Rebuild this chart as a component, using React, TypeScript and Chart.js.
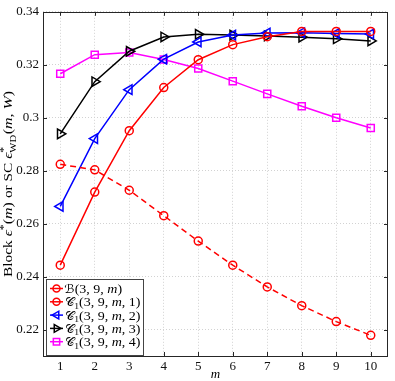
import React, { useEffect, useRef } from 'react';
import { Chart, registerables } from 'chart.js';

Chart.register(...registerables);

const mValues = [1, 2, 3, 4, 5, 6, 7, 8, 9, 10];
const blockB = [0.2824, 0.2803, 0.2726, 0.263, 0.2534, 0.2443, 0.2361, 0.229, 0.223, 0.2178];
const c1w1 = [0.2443, 0.2719, 0.2951, 0.3114, 0.3219, 0.3276, 0.3306, 0.3326, 0.3326, 0.3326];
const c1w2 = [0.2665, 0.2921, 0.3106, 0.3221, 0.3286, 0.3312, 0.332, 0.3321, 0.3318, 0.3316];
const c1w3 = [0.2939, 0.3136, 0.3251, 0.3305, 0.3315, 0.3312, 0.3309, 0.3304, 0.3298, 0.329];
const c1w4 = [0.3166, 0.3238, 0.3246, 0.322, 0.3186, 0.3138, 0.309, 0.3043, 0.3, 0.2961];
const xTickValues = [1, 2, 3, 4, 5, 6, 7, 8, 9, 10];
const yTickValues = [0.22, 0.24, 0.26, 0.28, 0.3, 0.32, 0.34];
const legendW = ['1', '2', '3', '4'];

const R = (s: number) => `${s}px "Liberation Serif", "DejaVu Serif", serif`;
const I = (s: number) => `italic ${s}px "Liberation Serif", "DejaVu Serif", serif`;
const S = (s: number) => `${s}px "DejaVu Serif", "DejaVu Sans", serif`;

type Seg = { t: string; font: string; dy?: number; top?: { t: string; font: string; dy: number }; bot?: { t: string; font: string; dy: number } };

function segWidth(ctx: CanvasRenderingContext2D, s: Seg) {
  if (s.top && s.bot) {
    ctx.font = s.top.font;
    const a = ctx.measureText(s.top.t).width;
    ctx.font = s.bot.font;
    const b = ctx.measureText(s.bot.t).width;
    return Math.max(a, b) + 0.5;
  }
  ctx.font = s.font;
  return ctx.measureText(s.t).width;
}

function richWidth(ctx: CanvasRenderingContext2D, segs: Seg[]) {
  let total = 0;
  for (const s of segs) total += segWidth(ctx, s);
  return total;
}

// draws segments starting at (0,0) baseline, stretched horizontally to targetW
function drawRich(ctx: CanvasRenderingContext2D, segs: Seg[], x: number, y: number, align: 'left' | 'center', targetW?: number) {
  const total = richWidth(ctx, segs);
  const k = targetW ? targetW / total : 1;
  ctx.save();
  ctx.translate(align === 'center' ? x - (total * k) / 2 : x, y);
  ctx.scale(k, 1);
  ctx.textAlign = 'left';
  ctx.textBaseline = 'alphabetic';
  let cx = 0;
  for (const s of segs) {
    const w = segWidth(ctx, s);
    if (s.top && s.bot) {
      ctx.font = s.top.font;
      ctx.fillText(s.top.t, cx, s.top.dy);
      ctx.font = s.bot.font;
      ctx.fillText(s.bot.t, cx, s.bot.dy);
    } else {
      ctx.font = s.font;
      ctx.fillText(s.t, cx, s.dy || 0);
    }
    cx += w;
  }
  ctx.restore();
}

function drawMarker(ctx: CanvasRenderingContext2D, style: string, rot: number, r: number, x: number, y: number) {
  ctx.beginPath();
  if (style === 'circle') {
    ctx.arc(x, y, r, 0, Math.PI * 2);
  } else if (style === 'rect') {
    const s = r * Math.SQRT1_2;
    ctx.rect(x - s, y - s, 2 * s, 2 * s);
  } else {
    let rad = (rot * Math.PI) / 180;
    ctx.moveTo(x + Math.sin(rad) * r, y - Math.cos(rad) * r);
    rad += (2 * Math.PI) / 3;
    ctx.lineTo(x + Math.sin(rad) * r, y - Math.cos(rad) * r);
    rad += (2 * Math.PI) / 3;
    ctx.lineTo(x + Math.sin(rad) * r, y - Math.cos(rad) * r);
    ctx.closePath();
  }
  ctx.stroke();
}

const yTitleSegs: Seg[] = [
  { t: 'Block ', font: R(13) },
  { t: 'ϵ', font: I(13) },
  { t: '*', font: R(10), dy: -5.5 },
  { t: '(', font: R(13.5) },
  { t: 'm', font: I(13.5) },
  { t: ') ', font: R(13.5) },
  { t: 'or SC ', font: R(13) },
  { t: 'ϵ', font: I(13) },
  { t: '', font: R(10), top: { t: '*', font: R(10), dy: -5.5 }, bot: { t: 'WD', font: R(9), dy: 3.5 } },
  { t: '(', font: R(13.5) },
  { t: 'm', font: I(13.5) },
  { t: ', ', font: R(13.5) },
  { t: 'W', font: I(13.5) },
  { t: ')', font: R(13.5) },
];

const legendItems = [
  { color: '#ff0000', style: 'circle', rot: 0, segs: [{ t: 'ℬ', font: S(12) }, { t: '(3, 9, ', font: R(13) }, { t: 'm', font: I(13) }, { t: ')', font: R(13) }] as Seg[] },
  ...legendW.map((w, i) => ({
    color: ['#ff0000', '#0000ff', '#000000', '#ff00ff'][i],
    style: ['circle', 'triangle', 'triangle', 'rect'][i],
    rot: [0, -90, 90, 0][i],
    segs: [
      { t: '𝒞', font: S(12) },
      { t: '1', font: R(9), dy: 2.5 },
      { t: '(3, 9, ', font: R(13) },
      { t: 'm', font: I(13) },
      { t: ', ' + w + ')', font: R(13) },
    ] as Seg[],
  })),
];

const decorPlugin = {
  id: 'decor',
  beforeDatasetsDraw(chart: any) {
    const { ctx, chartArea: a, scales } = chart;
    ctx.save();
    ctx.strokeStyle = '#262626';
    ctx.lineWidth = 1;
    ctx.setLineDash([]);
    ctx.beginPath();
    for (const v of xTickValues) {
      const px = Math.round(scales.x.getPixelForValue(v)) + 0.5;
      ctx.moveTo(px, a.bottom);
      ctx.lineTo(px, a.bottom - 4);
      ctx.moveTo(px, a.top);
      ctx.lineTo(px, a.top + 4);
    }
    for (const v of yTickValues) {
      const py = Math.round(scales.y.getPixelForValue(v)) + 0.5;
      ctx.moveTo(a.left, py);
      ctx.lineTo(a.left + 4, py);
      ctx.moveTo(a.right, py);
      ctx.lineTo(a.right - 4, py);
    }
    ctx.stroke();
    ctx.strokeRect(Math.round(a.left) + 0.5, Math.round(a.top) + 0.5, Math.round(a.right - a.left) - 1, Math.round(a.bottom - a.top));
    ctx.restore();
  },
  afterDraw(chart: any) {
    const { ctx, chartArea: a } = chart;
    ctx.save();
    ctx.setLineDash([]);
    ctx.fillStyle = '#000';
    ctx.save();
    ctx.translate(12, (a.top + a.bottom) / 2);
    ctx.rotate(-Math.PI / 2);
    drawRich(ctx, yTitleSegs, 0, 0, 'center', 186);
    ctx.restore();
    drawRich(ctx, [{ t: 'm', font: I(13) }], (a.left + a.right) / 2, 378, 'center');
    const bx = 46.5, by = 279.5, bw = 97, bh = 76;
    ctx.fillStyle = '#ffffff';
    ctx.fillRect(bx, by, bw, bh);
    ctx.strokeStyle = '#444444';
    ctx.lineWidth = 1;
    ctx.strokeRect(bx, by, bw, bh);
    const k = 76 / richWidth(ctx, legendItems[1].segs);
    legendItems.forEach((it, i) => {
      const cy = 288.5 + i * 13.3;
      ctx.strokeStyle = it.color;
      ctx.lineWidth = 1.5;
      ctx.beginPath();
      ctx.moveTo(50, cy);
      ctx.lineTo(63, cy);
      ctx.stroke();
      drawMarker(ctx, it.style, it.rot, it.style === 'circle' ? 3.5 : 4.5, 56.5, cy);
      ctx.fillStyle = '#000';
      drawRich(ctx, it.segs, 64.5, cy + 4.5, 'left', richWidth(ctx, it.segs) * k);
    });
    ctx.restore();
  },
};

export default function App() {
  const ref = useRef<HTMLCanvasElement | null>(null);
  useEffect(() => {
    document.body.style.margin = '0';
    if (!ref.current) return;
    const mk = (data: number[], color: string, style: string, rot: number, r: number, dash: number[] = []) => ({
      data: data.map((v, i) => ({ x: mValues[i], y: v })),
      borderColor: color,
      backgroundColor: color,
      borderWidth: 1.5,
      borderDash: dash,
      pointStyle: style,
      pointRotation: rot,
      pointRadius: r,
      pointBorderWidth: 1.5,
      pointBorderColor: color,
      pointBackgroundColor: 'rgba(0,0,0,0)',
      tension: 0,
      fill: false,
    });
    const chart = new Chart(ref.current, {
      type: 'line',
      data: {
        datasets: [
          mk(blockB, '#ff0000', 'circle', 0, 4, [6, 4]),
          mk(c1w1, '#ff0000', 'circle', 0, 4),
          mk(c1w2, '#0000ff', 'triangle', -90, 5.5),
          mk(c1w3, '#000000', 'triangle', 90, 5.5),
          mk(c1w4, '#ff00ff', 'rect', 0, 5),
        ] as any,
      },
      options: {
        animation: false,
        responsive: false,
        devicePixelRatio: 1,
        layout: { padding: { top: 9, right: 5, left: 0, bottom: 0 } },
        plugins: { legend: { display: false }, tooltip: { enabled: false } },
        scales: {
          x: {
            type: 'linear',
            min: 0.5,
            max: 10.5,
            afterBuildTicks: (s: any) => { s.ticks = xTickValues.map((v) => ({ value: v })); },
            afterFit: (s: any) => { s.height = 25; },
            ticks: { color: '#111', font: { family: '"Liberation Serif", serif', size: 13 }, padding: 3, autoSkip: false, maxRotation: 0, callback: (v: any) => String(v) },
            grid: { color: '#d2d2d2', lineWidth: 1, drawTicks: false },
            border: { display: false, dash: [1, 2] },
          },
          y: {
            type: 'linear',
            min: 0.21,
            max: 0.34,
            afterBuildTicks: (s: any) => { s.ticks = yTickValues.map((v) => ({ value: v })); },
            afterFit: (s: any) => { s.width = 43; },
            ticks: { color: '#111', font: { family: '"Liberation Serif", serif', size: 13 }, padding: 4, autoSkip: false, callback: (v: any) => String(Math.round(v * 100) / 100) },
            grid: { color: '#d2d2d2', lineWidth: 1, drawTicks: false },
            border: { display: false, dash: [1, 2] },
          },
        },
      } as any,
      plugins: [decorPlugin],
    });
    return () => chart.destroy();
  }, []);
  return (
    <div style={{ position: 'absolute', left: 0, top: 0, width: 395, height: 381, background: '#fff' }}>
      <canvas ref={ref} width={395} height={381} style={{ width: 395, height: 381 }} />
    </div>
  );
}
